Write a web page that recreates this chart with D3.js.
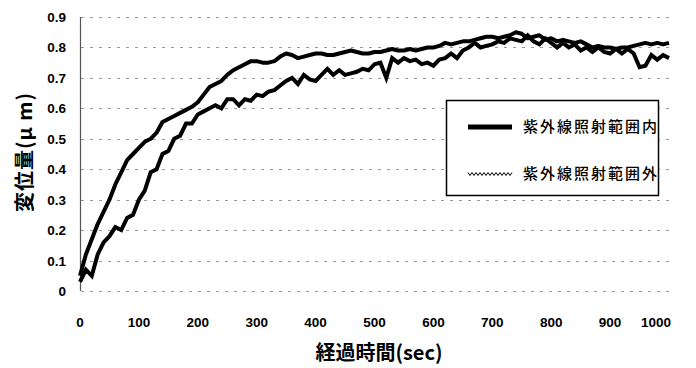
<!DOCTYPE html>
<html>
<head>
<meta charset="utf-8">
<script src="https://cdn.jsdelivr.net/npm/d3@7"></script>
<style>
  body { margin: 0; background: #fff; }
  text { font-family: "Liberation Sans", Arial, sans-serif; }
  .jp { font-family: "Noto Sans CJK JP", sans-serif; }
</style>
</head>
<body>
<div class="chart"></div>
<script>
// time axis, 10 sec step
var times = d3.range(0, 1001, 10);

// 紫外線照射範囲内 (solid thick)
var insideVals = [
  0.05, 0.12, 0.17, 0.22, 0.26, 0.30, 0.35, 0.39, 0.43, 0.45,
  0.47, 0.49, 0.50, 0.52, 0.555, 0.565, 0.575, 0.585, 0.595, 0.605,
  0.62, 0.645, 0.67, 0.68, 0.69, 0.71, 0.725, 0.735, 0.745, 0.755,
  0.755, 0.75, 0.75, 0.755, 0.77, 0.78, 0.775, 0.765, 0.77, 0.775,
  0.78, 0.78, 0.775, 0.775, 0.78, 0.785, 0.79, 0.785, 0.78, 0.78,
  0.785, 0.785, 0.79, 0.795, 0.79, 0.79, 0.795, 0.79, 0.795, 0.80,
  0.80, 0.805, 0.815, 0.81, 0.815, 0.82, 0.82, 0.825, 0.83, 0.835,
  0.835, 0.83, 0.835, 0.84, 0.85, 0.845, 0.83, 0.835, 0.84, 0.825,
  0.83, 0.82, 0.825, 0.82, 0.815, 0.82, 0.81, 0.80, 0.805, 0.80,
  0.80, 0.795, 0.80, 0.80, 0.805, 0.81, 0.815, 0.81, 0.815, 0.81,
  0.815
];

// 紫外線照射範囲外 (jagged)
var outsideVals = [
  0.03, 0.07, 0.05, 0.12, 0.16, 0.18, 0.21, 0.20, 0.24, 0.25,
  0.30, 0.33, 0.39, 0.40, 0.45, 0.46, 0.50, 0.51, 0.55, 0.55,
  0.58, 0.59, 0.60, 0.61, 0.60, 0.63, 0.63, 0.61, 0.63, 0.625,
  0.645, 0.64, 0.655, 0.66, 0.675, 0.69, 0.70, 0.68, 0.71, 0.695,
  0.69, 0.71, 0.73, 0.71, 0.725, 0.71, 0.715, 0.72, 0.73, 0.725,
  0.745, 0.75, 0.70, 0.765, 0.75, 0.765, 0.755, 0.76, 0.745, 0.75,
  0.74, 0.76, 0.765, 0.78, 0.765, 0.79, 0.80, 0.815, 0.80, 0.805,
  0.81, 0.82, 0.815, 0.83, 0.825, 0.82, 0.84, 0.82, 0.81, 0.83,
  0.815, 0.80, 0.815, 0.80, 0.81, 0.79, 0.80, 0.785, 0.80, 0.785,
  0.78, 0.795, 0.78, 0.795, 0.78, 0.735, 0.74, 0.775, 0.76, 0.775,
  0.765
];

var xTicks = [0, 100, 200, 300, 400, 500, 600, 700, 800, 900, 1000];
var yTicks = [0, 0.1, 0.2, 0.3, 0.4, 0.5, 0.6, 0.7, 0.8, 0.9];
var seriesNames = ["紫外線照射範囲内", "紫外線照射範囲外"];

var width = 696, height = 368;
var svg = d3.select(".chart").append("svg")
    .attr("width", width)
    .attr("height", height);

var x = d3.scaleLinear().domain([0, 1000]).range([80, 669]);
var y = d3.scaleLinear().domain([0, 0.9]).range([291, 17]);

// grid lines
svg.append("g").selectAll("line")
    .data(yTicks)
    .enter()
    .append("line")
    .attr("x1", 81).attr("x2", 669)
    .attr("y1", function (d) { return Math.round(y(d)) + 0.5; })
    .attr("y2", function (d) { return Math.round(y(d)) + 0.5; })
    .attr("stroke", "#999")
    .attr("stroke-width", 1)
    .attr("stroke-dasharray", "3,6");

// y axis line
svg.append("line")
    .attr("x1", 80.5).attr("x2", 80.5)
    .attr("y1", y(0.9)).attr("y2", y(0))
    .attr("stroke", "#555")
    .attr("stroke-width", 1.2);

// tick labels
svg.append("g").selectAll("text")
    .data(yTicks)
    .enter()
    .append("text")
    .attr("x", 66)
    .attr("y", function (d) { return y(d) + 5; })
    .attr("text-anchor", "end")
    .attr("font-size", 13.5)
    .attr("font-weight", "bold")
    .text(function (d) { return d === 0 ? "0" : d3.format(".1f")(d); });

svg.append("g").selectAll("text")
    .data(xTicks)
    .enter()
    .append("text")
    .attr("x", function (d) { return d === 1000 ? 671 : x(d); })
    .attr("y", 327)
    .attr("text-anchor", function (d) { return d === 1000 ? "end" : "middle"; })
    .attr("font-size", 13.5)
    .attr("font-weight", "bold")
    .text(function (d) { return d; });

// axis titles
svg.append("text")
    .attr("class", "jp")
    .attr("transform", "translate(32,152) rotate(-90)")
    .attr("text-anchor", "middle")
    .attr("font-size", 20)
    .attr("font-weight", "bold")
    .attr("letter-spacing", 1)
    .text("変位量(μ m)");

svg.append("text")
    .attr("class", "jp")
    .attr("x", 379)
    .attr("y", 360)
    .attr("text-anchor", "middle")
    .attr("font-size", 20)
    .attr("font-weight", "bold")
    .text("経過時間(sec)");

// series lines
var line = d3.line()
    .x(function (d) { return x(d[0]); })
    .y(function (d) { return y(d[1]); });

var outsideData = times.map(function (t, i) { return [t, outsideVals[i]]; });
var insideData = times.map(function (t, i) { return [t, insideVals[i]]; });

svg.append("path")
    .datum(outsideData)
    .attr("d", line)
    .attr("fill", "none")
    .attr("stroke", "#000")
    .attr("stroke-width", 4)
    .attr("stroke-linejoin", "miter");

svg.append("path")
    .datum(insideData)
    .attr("d", line)
    .attr("fill", "none")
    .attr("stroke", "#000")
    .attr("stroke-width", 4)
    .attr("stroke-linejoin", "round");

// legend
var legend = svg.append("g");
legend.append("rect")
    .attr("x", 446.5).attr("y", 100.5)
    .attr("width", 212).attr("height", 95)
    .attr("fill", "#fff")
    .attr("stroke", "#000")
    .attr("stroke-width", 1.5);

legend.append("line")
    .attr("x1", 468).attr("x2", 512)
    .attr("y1", 127).attr("y2", 127)
    .attr("stroke", "#000")
    .attr("stroke-width", 5);

var zig = d3.range(0, 23).map(function (i) {
  return [468 + i * 2, 174 + (i % 2 === 0 ? -1.5 : 1.5)];
});
legend.append("path")
    .attr("d", d3.line()(zig))
    .attr("fill", "none")
    .attr("stroke", "#000")
    .attr("stroke-width", 1);

legend.selectAll("text.lg")
    .data(seriesNames)
    .enter()
    .append("text")
    .attr("class", "jp")
    .attr("x", 523)
    .attr("y", function (d, i) { return i === 0 ? 132 : 179; })
    .attr("font-size", 15)
    .attr("letter-spacing", 2)
    .attr("font-weight", "500")
    .text(function (d) { return d; });
</script>
</body>
</html>
